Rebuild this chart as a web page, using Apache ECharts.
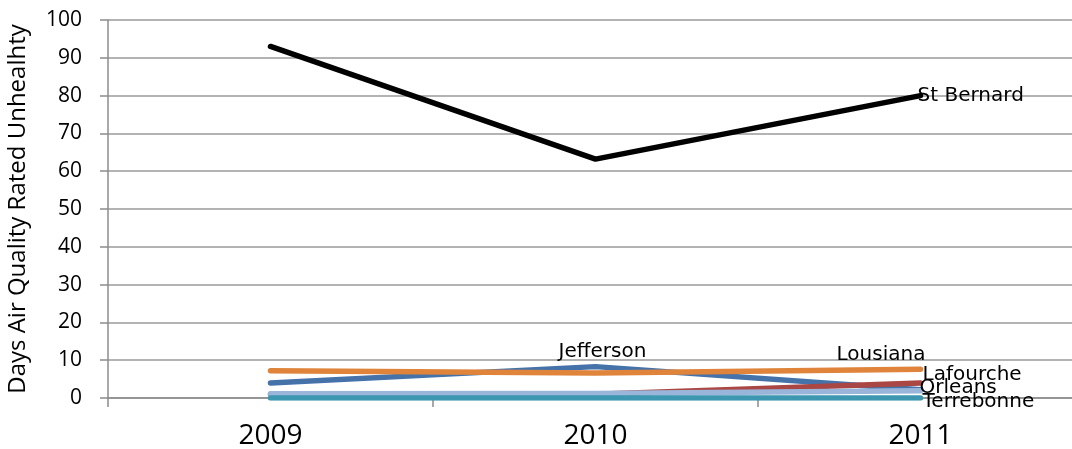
<!DOCTYPE html>
<html>
<head>
<meta charset="utf-8">
<script src="https://cdn.jsdelivr.net/npm/echarts@6/dist/echarts.min.js"></script>
<style>
  html, body { margin: 0; padding: 0; background: #fff; }
  #chart { width: 1072px; height: 449px; }
</style>
</head>
<body>
<div id="chart"></div>
<script>
var years = ['2009', '2010', '2011'];
var jefferson = [4, 8.3, 2.2];
var lafourche = [1, 1, 4];
var orleans = [1.1, 1.2, 1.9];
var terrebonne = [0, 0, 0];
var lousiana = [7.2, 6.6, 7.6];
var stBernard = [93, 63.2, 80];
var yTicks = [0, 100, 10];

var labelFont = '"DejaVu Sans", sans-serif';
var axisFont = '"Open Sans", Calibri, sans-serif';

function withLabel(values, idx, name, label) {
    return values.map(function (v, i) {
        if (i !== idx) return v;
        return {
            value: v,
            label: Object.assign({
                show: true,
                formatter: name,
                color: '#000',
                fontFamily: labelFont,
                fontSize: 20,
                distance: 0
            }, label)
        };
    });
}

function line(name, color, width, data) {
    return {
        name: name,
        type: 'line',
        data: data,
        symbol: 'circle',
        showSymbol: true,
        symbolSize: 0.1,
        lineStyle: { color: color, width: width, cap: 'round', join: 'round' },
        itemStyle: { color: color },
        z: 2
    };
}

var dom = document.getElementById('chart');
var myChart = echarts.init(dom);
var option = {
    animation: false,
    grid: { left: 108, top: 20, width: 975, height: 378, outerBoundsMode: 'none', containLabel: false },
    xAxis: {
        type: 'category',
        data: years,
        boundaryGap: true,
        axisLine: { lineStyle: { color: '#8c8c8c', width: 1.5 } },
        axisTick: { show: true, length: 9, lineStyle: { color: '#8c8c8c', width: 1.5 } },
        axisLabel: { color: '#000', fontSize: 28, fontFamily: axisFont, margin: 24 }
    },
    yAxis: {
        type: 'value',
        min: yTicks[0],
        max: yTicks[1],
        interval: yTicks[2],
        name: 'Days Air Quality Rated Unhealhty',
        nameLocation: 'middle',
        nameGap: 78,
        nameTextStyle: { color: '#000', fontSize: 24, fontFamily: axisFont },
        axisLine: { show: true, lineStyle: { color: '#8c8c8c', width: 1.5 } },
        axisTick: { show: true, length: 8, lineStyle: { color: '#8c8c8c', width: 1.5 } },
        axisLabel: { color: '#000', fontSize: 21, fontFamily: axisFont, margin: 26 },
        splitLine: { lineStyle: { color: '#9a9a9a', width: 1.5 } }
    },
    series: [
        line('Jefferson', '#4573a9', 5.5, withLabel(jefferson, 1, 'Jefferson', { position: 'top', offset: [7, -5] })),
        line('Lafourche', '#aa4643', 5.5, withLabel(lafourche, 2, 'Lafourche', { position: 'right', offset: [2, -8] })),
        line('Orleans', '#99b5d9', 5.5, withLabel(orleans, 2, 'Orleans', { position: 'right', offset: [-1, -3] })),
        line('Terrebonne', '#3d97b0', 5.5, withLabel(terrebonne, 2, 'Terrebonne', { position: 'right', offset: [2, 4] })),
        line('Lousiana', '#df843a', 5.5, withLabel(lousiana, 2, 'Lousiana', { position: 'left', offset: [5, -14] })),
        line('St Bernard', '#000000', 5.5, withLabel(stBernard, 2, 'St Bernard', { position: 'right', offset: [-3, 0] }))
    ]
};
myChart.setOption(option, true);
</script>
</body>
</html>
